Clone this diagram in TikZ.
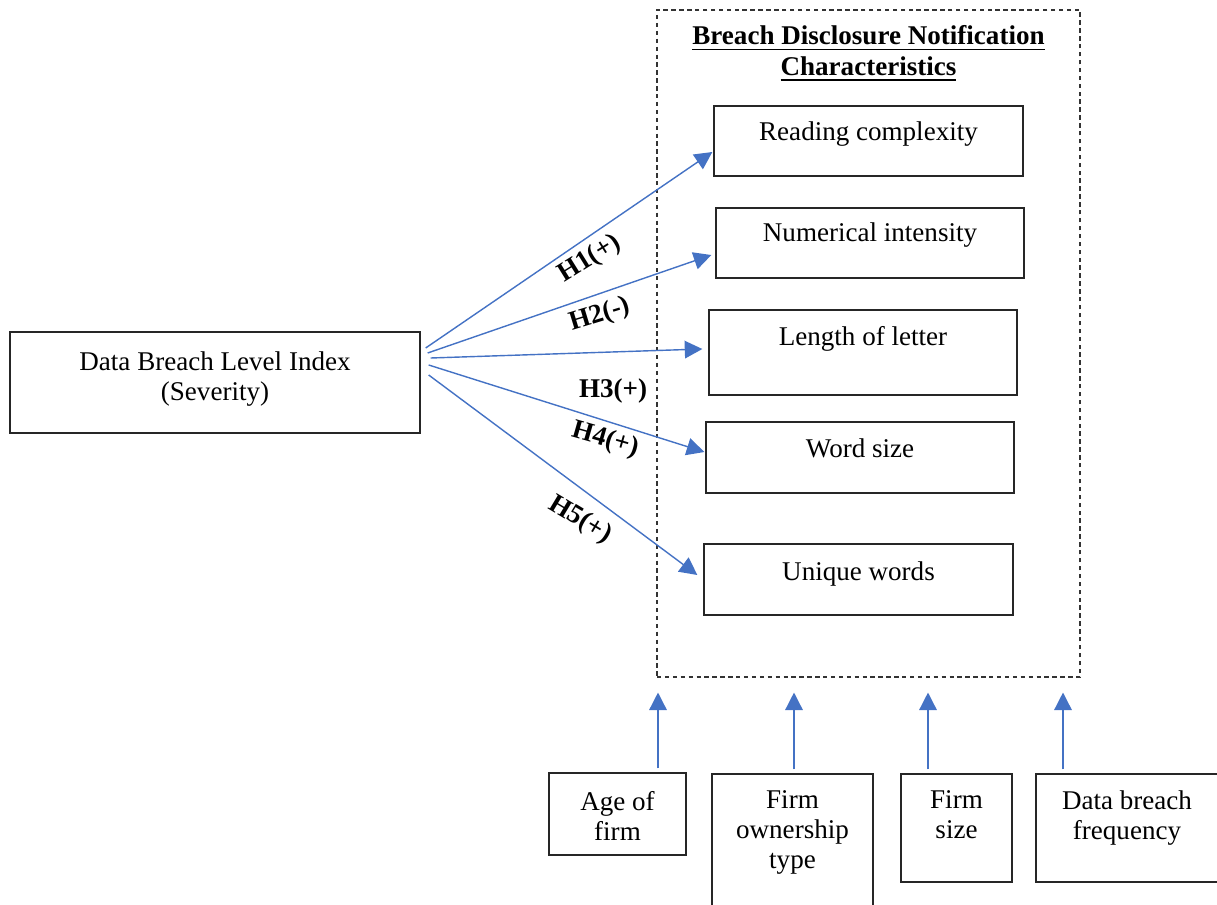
\documentclass[tikz,border=0pt]{standalone}
\usepackage{fontspec}
\setmainfont{Liberation Serif}
\usetikzlibrary{arrows.meta,calc}
\definecolor{arrowblue}{HTML}{4472C4}
\newdimen\pxu \pxu=0.5690551pt
\newcommand{\tx}[2]{\raisebox{#1\pxu}[0pt][0pt]{\begin{tabular}[t]{@{}c@{}}#2\end{tabular}}}
\newcommand{\uln}[1]{{\setbox0\hbox{#1}\rlap{\rule[-3.1pt]{\wd0}{1.1pt}}\box0}}
\begin{document}
\begin{tikzpicture}[x=0.02cm,y=-0.02cm,
  font=\fontsize{15.4}{17.2}\selectfont,
  bx/.style 2 args={draw=black!85, line width=0.75pt, minimum width=#1*0.02cm, minimum height=#2*0.02cm, inner sep=0pt},
  arr/.style={draw=arrowblue, line width=0.8pt, -{Triangle[length=10pt,width=10pt]}},
  hl/.style={font=\fontsize{15.4}{17.2}\selectfont\bfseries, inner sep=0pt}]
\path[use as bounding box, clip] (0,0) rectangle (1217,905);

% dashed container
\node[bx={423}{667}, draw=black!80, dash pattern=on 2.5pt off 2pt, line width=0.6pt] (D) at (868.5,343.5) {};
\node[inner sep=0pt, font=\fontsize{15.4}{17.6}\selectfont\bfseries] (T) at (868.5,45)
  {\tx{0}{\uln{Breach Disclosure Notification}\\ \uln{Characteristics}}};

% main boxes
\node[bx={410}{101}] (L) at (215,382.5) {\tx{12.5}{Data Breach Level Index\\(Severity)}};
\node[bx={309}{70}] (R) at (868.5,141) {\tx{0}{Reading complexity}};
\node[bx={308}{70}] (N) at (870,243) {\tx{1}{Numerical intensity}};
\node[bx={308}{85}] (Le) at (863,352.5) {\tx{7.5}{Length of letter}};
\node[bx={308}{71}] (W) at (860,457.5) {\tx{0.5}{Word size}};
\node[bx={309}{71}] (U) at (858.5,579.5) {\tx{-0.5}{Unique words}};

% control boxes
\node[bx={137}{82}] (A) at (617.5,814) {\tx{4}{Age of\\firm}};
\node[bx={161}{156}] (O) at (792.5,852) {\tx{44}{Firm\\ownership\\type}};
\node[bx={111}{108}] (S) at (956.5,828) {\tx{20}{Firm\\size}};
\node[bx={182}{108}] (F) at (1127,828) {\tx{19}{Data breach\\frequency}};

% hypothesis arrows
\draw[arr] ($(L.east)+(5,-34.5)$) -- ($(R.west)+(-1,11)$);
\draw[arr] ($(L.east)+(7,-29.5)$) -- ($(N.west)+(-4,12)$);
\draw[arr] ($(L.east)+(10,-24.5)$) -- ($(Le.west)+(-6,-3.5)$);
\draw[arr] ($(L.east)+(8,-17.5)$) -- ($(W.west)+(-1,-5.5)$);
\draw[arr] ($(L.east)+(8,-7.5)$) -- ($(U.west)+(-6,-4.5)$);

% hypothesis labels
\node[hl, rotate=32] (h1) at (590,259) {H1(+)};
\node[hl, rotate=17] (h2) at (600,315) {H2(-)};
\node[hl] (h3) at (613,391) {H3(+)};
\node[hl, rotate=-16] (h4) at (605,440) {H4(+)};
\node[hl, rotate=-31] (h5) at (580,520) {H5(+)};

% control arrows
\draw[arr] ($(A.north)+(40.5,-4)$) -- ($(A.north |- D.south)+(40.5,15)$);
\draw[arr] ($(O.north)+(1.5,-4)$) -- ($(O.north |- D.south)+(1.5,15)$);
\draw[arr] ($(S.north)+(-28.5,-4)$) -- ($(S.north |- D.south)+(-28.5,15)$);
\draw[arr] ($(F.north)+(-64,-4)$) -- ($(F.north |- D.south)+(-64,15)$);
\end{tikzpicture}
\end{document}
